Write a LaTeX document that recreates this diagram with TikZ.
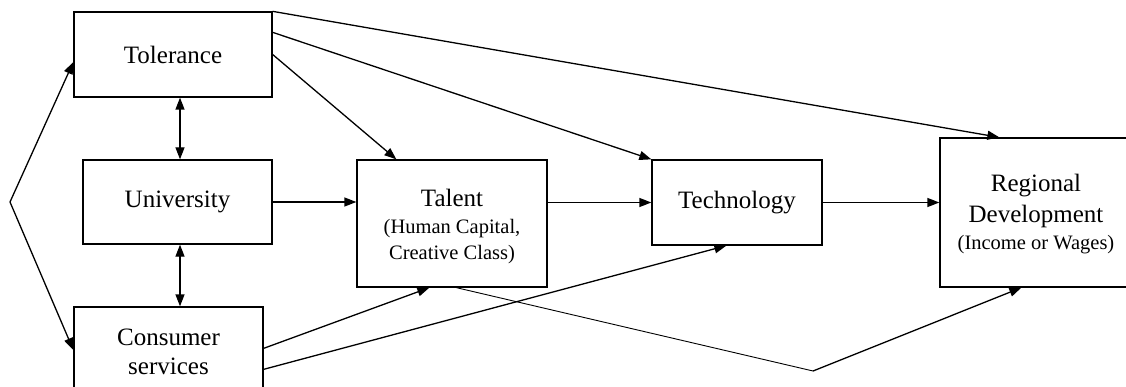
\documentclass[tikz,border=0pt]{standalone}
\usepackage{fontspec}
\setmainfont{Liberation Serif}
\usetikzlibrary{arrows.meta,calc}
\newcommand{\subfont}{\fontsize{20.5}{26}\selectfont}
\begin{document}
\begin{tikzpicture}[x=1pt,y=-1pt,
  box/.style={draw,line width=1.3pt,inner sep=0pt,align=center,font=\fontsize{25}{29}\selectfont},
  arr/.style={line width=1.3pt,-{Triangle[length=12pt,width=9pt]}},
  darr/.style={line width=1.3pt,{Triangle[length=12pt,width=9pt]}-{Triangle[length=12pt,width=9pt]}},
  thin/.style={line width=0.9pt}]
\useasboundingbox (0,0) rectangle (1126,387);
\clip (0,0) rectangle (1126,387);
\node[box,minimum width=198pt,minimum height=85pt] (tol) at (173,54.5) {Tolerance};
\node[box,minimum width=189pt,minimum height=84pt] (univ) at (177.5,202) {University};
\node[box,minimum width=189pt,minimum height=90pt] (cons) at (168.5,352) {Consumer\\services};
\node[box,minimum width=190pt,minimum height=127pt] (tal) at (452,223.5)
  {\begin{tabular}{@{}c@{}}\rule{0pt}{27.7pt}Talent\\[-3pt]\subfont (Human Capital,\\[-3pt]\subfont Creative Class)\end{tabular}};
\node[box,minimum width=170pt,minimum height=85pt] (tech) at (737,202.5) {Technology};
\node[box,minimum width=192pt,minimum height=149pt] (reg) at (1036,212.5)
  {\begin{tabular}{@{}c@{}}\rule{0pt}{25.7pt}Regional\\[2pt]Development\\[-2pt]\subfont (Income or Wages)\end{tabular}};
\coordinate (lv) at (10,202);
\coordinate (vv) at (813,371);
% left fork
\draw[arr] (lv) -- ([yshift=-7.5pt]tol.west);
\draw[arr] (lv) -- ([yshift=2pt]cons.west);
% double arrows
\draw[darr] ([xshift=2.5pt]univ.north |- tol.south) -- ([xshift=2.5pt]univ.north);
\draw[darr] ([xshift=2.5pt]univ.south) -- ([xshift=2.5pt]univ.south |- cons.north);
% horizontal chain
\draw[arr] (univ.east) -- (univ.east -| tal.west);
\draw[arr] (tal.east |- tech.west) -- (tech.west);
\draw[arr] (tech.east) -- (tech.east -| reg.west);
% from tolerance
\draw[arr] (tol.east) -- ([xshift=40pt]tal.north west);
\draw[arr] ([yshift=-21pt]tol.north east) -- (tech.north west);
\draw[arr] (tol.north east) -- ([xshift=60pt]reg.north west);
% from consumer services
\draw[arr] ([yshift=-42pt]cons.north east) -- ([xshift=73pt]tal.south west);
\draw[arr] ([yshift=-63pt]cons.north east) -- ([xshift=75pt]tech.south west);
% talent to regional via V
\draw[thin] ([xshift=100pt]tal.south west) -- (vv);
\draw[arr] (vv) -- ([xshift=82pt]reg.south west);
\end{tikzpicture}
\end{document}
